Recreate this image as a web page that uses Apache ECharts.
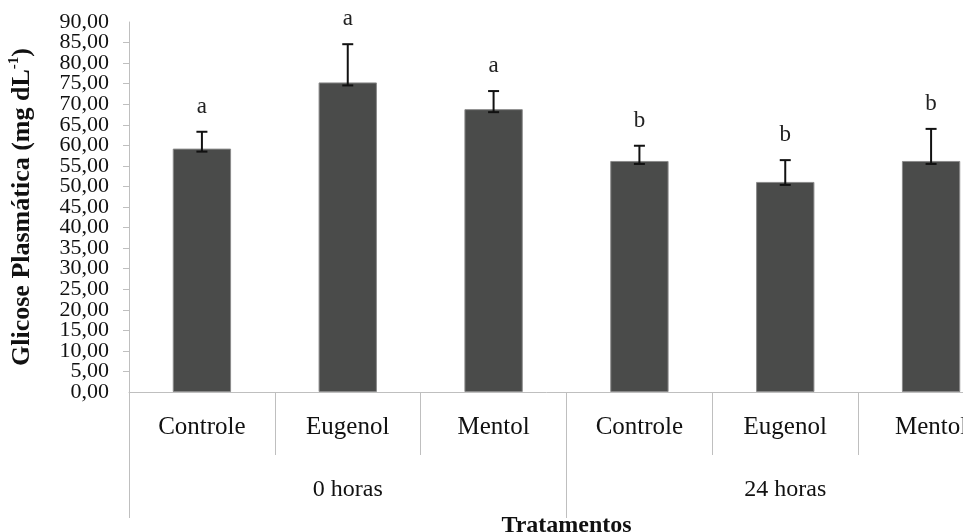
<!DOCTYPE html>
<html>
<head>
<meta charset="utf-8">
<script src="https://cdn.jsdelivr.net/npm/echarts@6/dist/echarts.min.js"></script>
<style>
  html, body { margin: 0; padding: 0; background: #fff; }
  #chart { width: 963px; height: 532px; }
</style>
</head>
<body>
<div id="chart"></div>
<script>
// Plasma glucose by treatment, at 0 h and 24 h
const categories = ['Controle', 'Eugenol', 'Mentol', 'Controle', 'Eugenol', 'Mentol'];
const groups = ['0 horas', '24 horas'];
const glucose = [59.2, 75.3, 68.8, 56.2, 51.1, 56.2];
const errorUp = [4.1, 9.3, 4.4, 3.7, 5.3, 7.8];
const letters = ['a', 'a', 'a', 'b', 'b', 'b'];
const yMin = 0, yMax = 90, yStep = 5;

const serif = '"Liberation Serif", "Times New Roman", serif';
const axisGray = '#bfbfbf';
const fmt = v => v.toFixed(2).replace('.', ',');
const yLabelStyle = { margin: 20, fontFamily: serif, fontSize: 22, color: '#111', hideOverlap: false };

const chart = echarts.init(document.getElementById('chart'), null, { renderer: 'canvas' });

const errorData = glucose.map((v, i) => [i, v, errorUp[i]]);

chart.setOption({
  backgroundColor: '#ffffff',
  animation: false,
  grid: { left: 129, top: 22, width: 875, height: 370, containLabel: false, outerBoundsMode: 'none' },
  xAxis: [
    {
      type: 'category',
      data: categories,
      position: 'bottom',
      boundaryGap: true,
      axisLine: { show: true, lineStyle: { color: axisGray, width: 1 } },
      axisTick: { show: true, interval: 0, length: 63, lineStyle: { color: axisGray } },
      axisLabel: {
        interval: 0, margin: 35, verticalAlign: 'middle', hideOverlap: false,
        fontFamily: serif, fontSize: 25, color: '#111'
      },
      name: 'Tratamentos',
      nameLocation: 'middle',
      nameGap: 134,
      nameTextStyle: { fontFamily: serif, fontSize: 24, fontWeight: 'bold', color: '#111', verticalAlign: 'middle' }
    },
    {
      type: 'category',
      data: groups,
      position: 'bottom',
      offset: 0,
      boundaryGap: true,
      axisLine: { show: false },
      axisTick: { show: true, interval: 0, length: 126, lineStyle: { color: axisGray } },
      axisLabel: {
        interval: 0, margin: 98, verticalAlign: 'middle', hideOverlap: false,
        fontFamily: serif, fontSize: 24, color: '#111'
      }
    }
  ],
  yAxis: [
    {
      // axis line, name and the labels at multiples of 10
      type: 'value',
      min: yMin, max: yMax, interval: yStep * 2,
      axisLine: { show: true, lineStyle: { color: axisGray } },
      axisTick: { show: false },
      splitLine: { show: false },
      axisLabel: Object.assign({ showMinLabel: true, showMaxLabel: true, formatter: fmt }, yLabelStyle),
      name: '{main|Glicose Plasmática (mg dL}{sup|-1}{main|)}',
      nameLocation: 'middle',
      nameGap: 92,
      nameTextStyle: {
        rich: {
          main: { fontFamily: serif, fontSize: 26, fontWeight: 'bold', color: '#111', lineHeight: 30 },
          sup: { fontFamily: serif, fontSize: 15, fontWeight: 'bold', color: '#111', verticalAlign: 'top', lineHeight: 30, padding: [0, 0, 10, 0] }
        }
      }
    },
    {
      // every tick, plus the labels halfway between
      type: 'value',
      position: 'left',
      offset: 0,
      min: yMin, max: yMax, interval: yStep,
      axisLine: { show: false },
      axisTick: { show: true, length: 6, lineStyle: { color: axisGray } },
      splitLine: { show: false },
      axisLabel: Object.assign({
        showMinLabel: false, showMaxLabel: false,
        formatter: v => (v % (yStep * 2) === 0 ? '' : fmt(v))
      }, yLabelStyle)
    }
  ],
  series: [
    {
      type: 'bar',
      xAxisIndex: 0,
      yAxisIndex: 0,
      data: glucose,
      barWidth: '40%',
      itemStyle: { color: '#4a4b4a', borderColor: '#8a8a8a', borderWidth: 1 }
    },
    {
      type: 'custom',
      xAxisIndex: 0,
      yAxisIndex: 0,
      data: errorData,
      encode: { x: 0, y: 1 },
      z: 5,
      renderItem: function (params, api) {
        const idx = api.value(0);
        const mean = api.value(1);
        const up = api.value(2);
        const x = api.coord([idx, mean])[0];
        const yMean = api.coord([idx, mean])[1] + 3;
        const yTop = api.coord([idx, mean + up])[1];
        const half = 5.5;
        const stroke = { stroke: '#111', lineWidth: 2 };
        return {
          type: 'group',
          children: [
            { type: 'line', shape: { x1: x, y1: yMean, x2: x, y2: yTop }, style: stroke },
            { type: 'line', shape: { x1: x - half, y1: yTop, x2: x + half, y2: yTop }, style: stroke },
            { type: 'line', shape: { x1: x - half, y1: yMean, x2: x + half, y2: yMean }, style: stroke },
            {
              type: 'text',
              x: x, y: yTop - 25,
              style: {
                text: letters[params.dataIndex],
                fontFamily: serif, fontSize: 23, fill: '#222',
                align: 'center', verticalAlign: 'middle'
              }
            }
          ]
        };
      }
    }
  ]
});
</script>
</body>
</html>
